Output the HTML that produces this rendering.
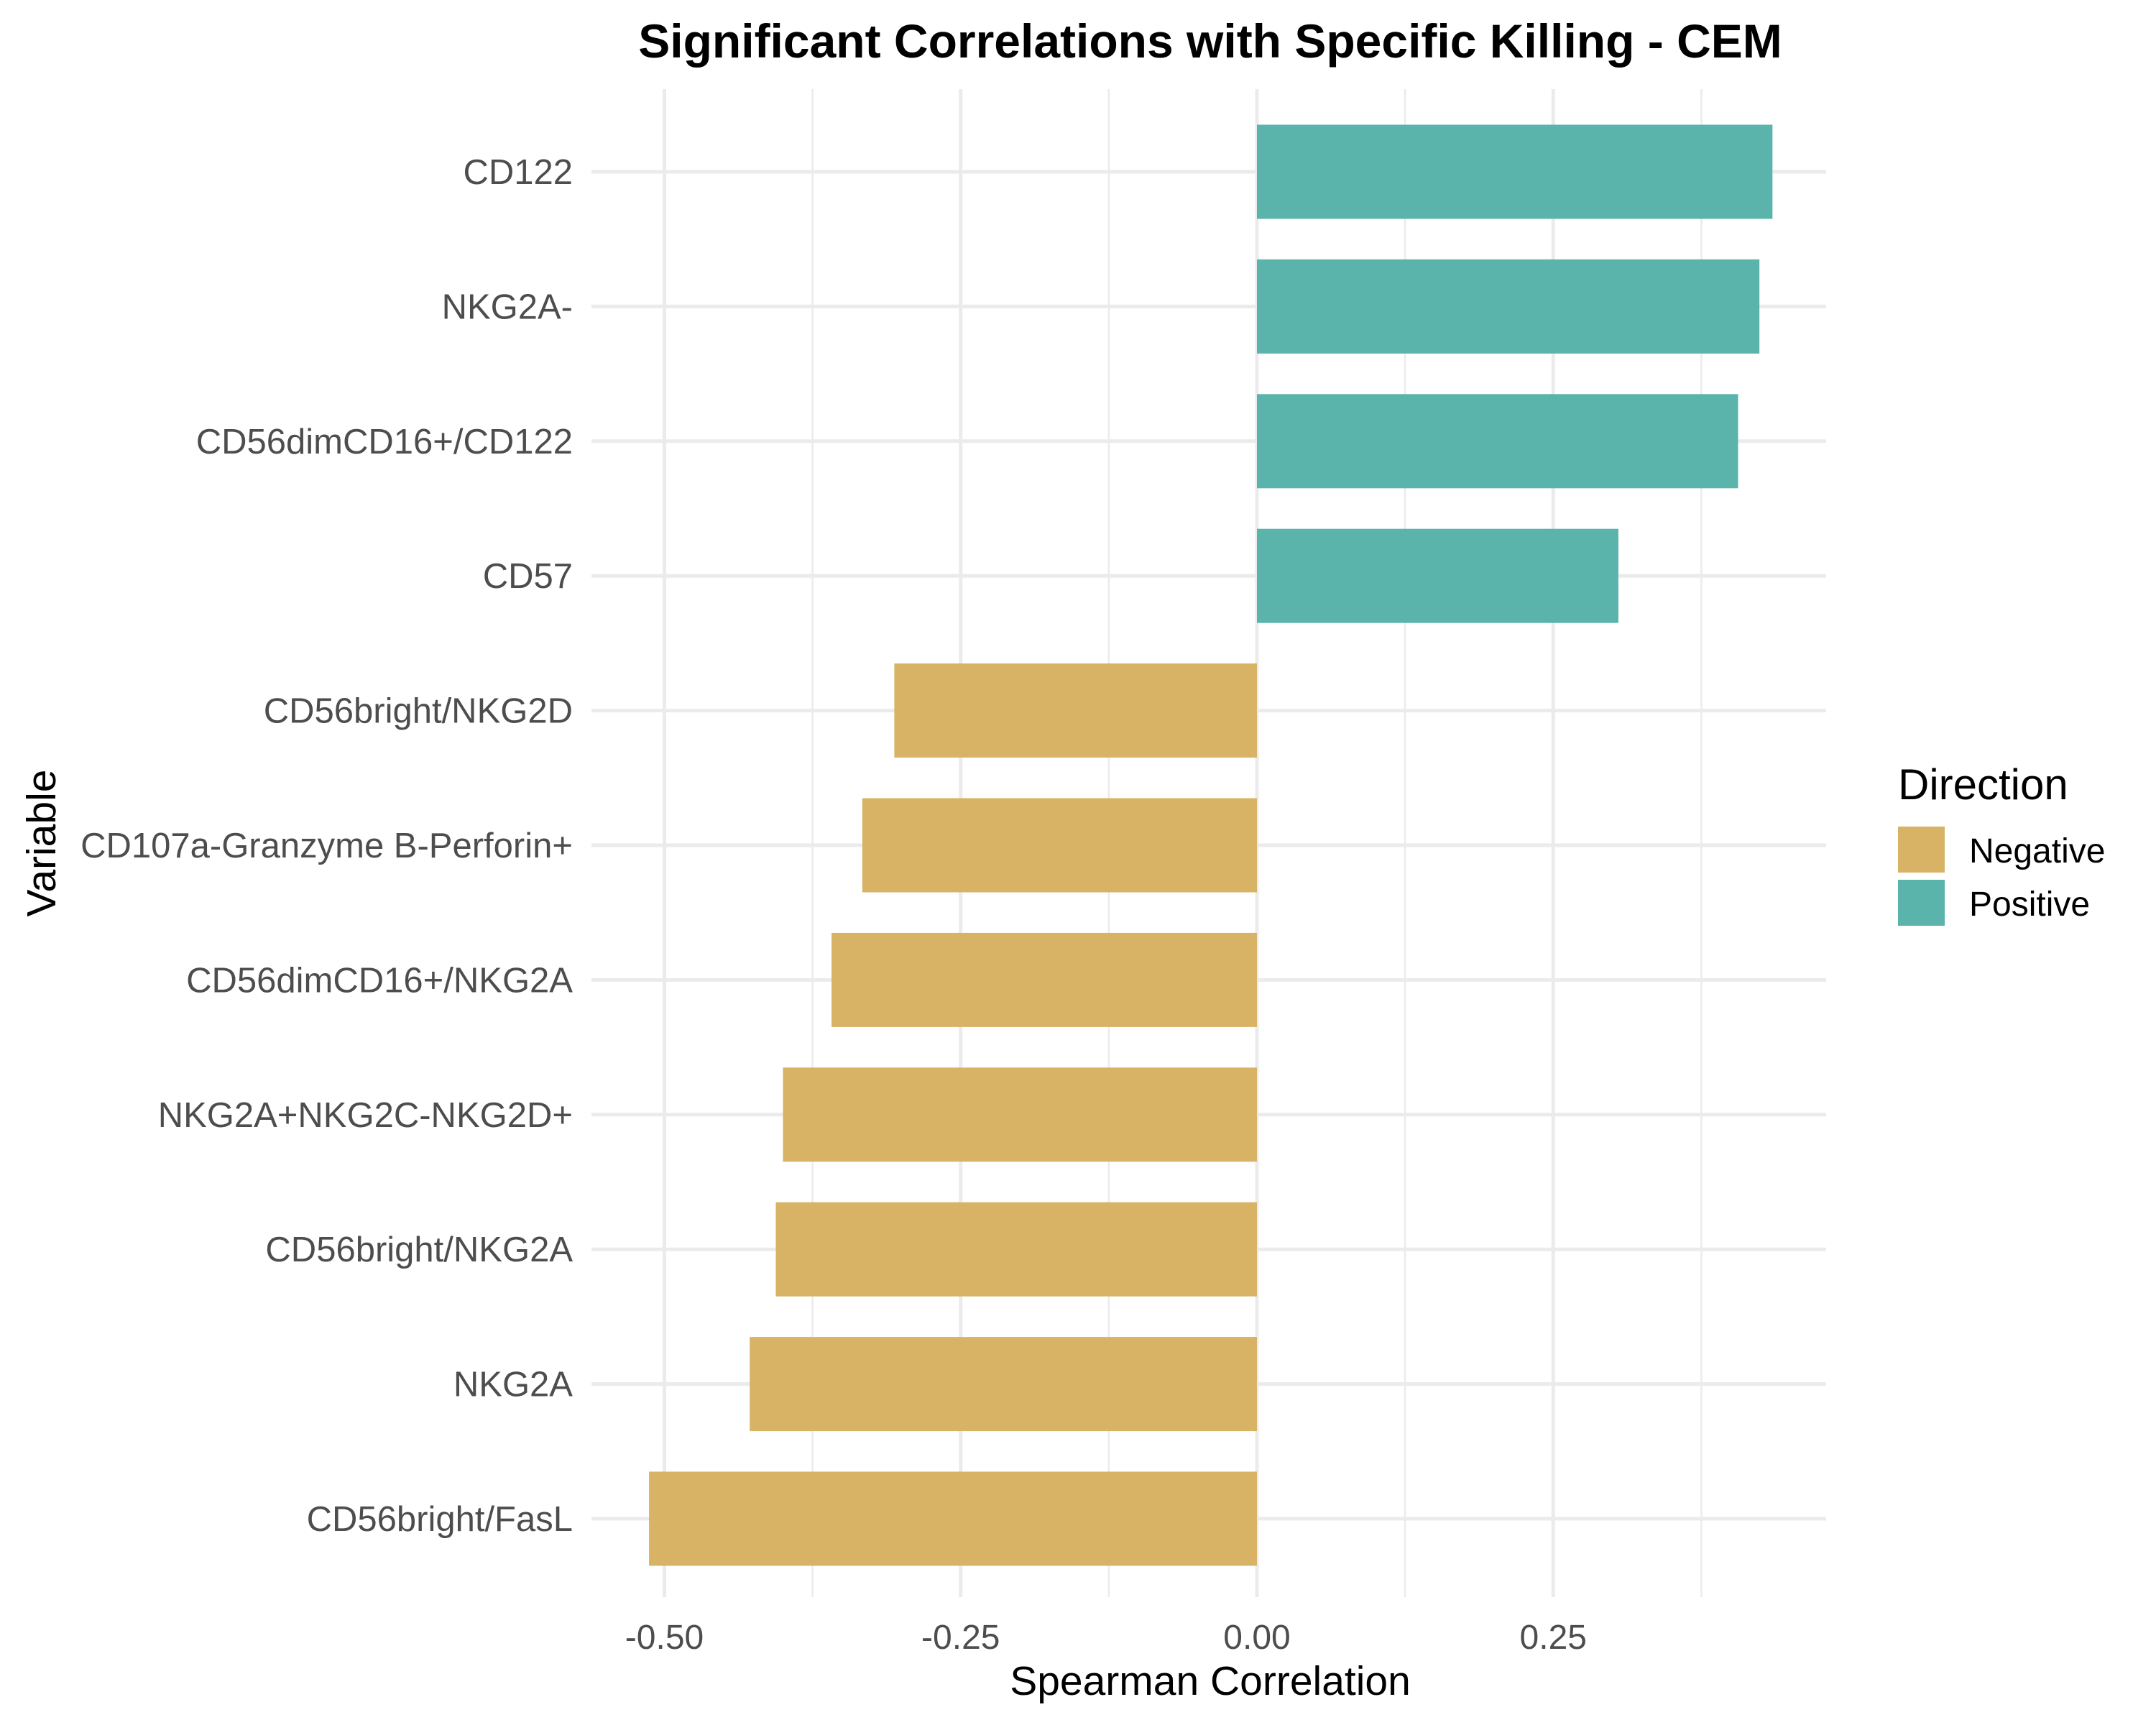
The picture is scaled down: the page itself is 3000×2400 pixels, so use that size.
<!DOCTYPE html>
<html><head><meta charset="utf-8"><style>
html,body{margin:0;padding:0;background:#fff;}
svg{display:block;font-family:"Liberation Sans",Arial,sans-serif;}
</style></head><body>
<svg id="chart" width="3000" height="2400" viewBox="0 0 3000 2400">
<rect width="3000" height="2400" fill="#fff"/>
<g id="grid"></g><g id="bars"></g><g id="ylabels"></g><g id="xlabels"></g>
<text x="1684" y="80" text-anchor="middle" font-size="66" font-weight="bold" fill="#000">Significant Correlations with Specific Killing - CEM</text>
<text x="1684" y="2358" text-anchor="middle" font-size="57" fill="#000">Spearman Correlation</text>
<text transform="translate(77,1173) rotate(-90)" text-anchor="middle" font-size="57" fill="#000">Variable</text>
<g>
<text x="2641" y="1112" font-size="60" fill="#000">Direction</text>
<rect x="2641" y="1150" width="65" height="64" fill="#D8B365"/>
<text x="2740" y="1200" font-size="48" fill="#000">Negative</text>
<rect x="2641" y="1224" width="65" height="64" fill="#5AB4AC"/>
<text x="2740" y="1274" font-size="48" fill="#000">Positive</text>
</g>
</svg>
<script>
const categories = ["CD122","NKG2A-","CD56dimCD16+/CD122","CD57","CD56bright/NKG2D","CD107a-Granzyme B-Perforin+","CD56dimCD16+/NKG2A","NKG2A+NKG2C-NKG2D+","CD56bright/NKG2A","NKG2A","CD56bright/FasL"];
const values = [0.435,0.424,0.406,0.305,-0.306,-0.333,-0.359,-0.400,-0.406,-0.428,-0.513];
const majorTicks = [-0.5,-0.25,0,0.25];
const tickLabels = ["-0.50","-0.25","0.00","0.25"];
const minorTicks = [-0.375,-0.125,0.125,0.375];
const NS="http://www.w3.org/2000/svg";
const panelL=823, panelR=2541, panelT=124, panelB=2222;
function xs(v){return 1749 + v*1649;}
function ys(i){return 239 + i*187.4;}
const bandH=131;
function mk(tag,attrs,parent){const e=document.createElementNS(NS,tag);for(const k in attrs)e.setAttribute(k,attrs[k]);parent.appendChild(e);return e;}
const grid=document.getElementById('grid');
minorTicks.forEach(v=>{
  const l=mk('line',{x1:xs(v),x2:xs(v),y1:panelT,y2:panelB,stroke:'#EBEBEB','stroke-width':2.5},grid);
  
  
});
majorTicks.forEach(v=>{
  const l=mk('line',{x1:xs(v),x2:xs(v),y1:panelT,y2:panelB,stroke:'#EBEBEB','stroke-width':5},grid);
  
  
});
categories.forEach((c,i)=>{
  const l=mk('line',{x1:panelL,x2:panelR,y1:ys(i),y2:ys(i),stroke:'#EBEBEB','stroke-width':5},grid);
  
  
});
const bars=document.getElementById('bars');
values.forEach((v,i)=>{
  const x0=Math.min(xs(0),xs(v)), w=Math.abs(xs(v)-xs(0));
  const r=mk('rect',{x:x0,y:ys(i)-bandH/2,width:w,height:bandH,fill:v>=0?'#5AB4AC':'#D8B365'},bars);
  
  
});
const yl=document.getElementById('ylabels');
categories.forEach((c,i)=>{
  const t=mk('text',{x:797,y:ys(i)+17,'text-anchor':'end','font-size':49,fill:'#4D4D4D'},yl);
  t.textContent=c;
  
  
});
const xl=document.getElementById('xlabels');
majorTicks.forEach((v,i)=>{
  const t=mk('text',{x:xs(v),y:2294,'text-anchor':'middle','font-size':48,fill:'#4D4D4D'},xl);
  t.textContent=tickLabels[i];
  
  
});
</script>
</body></html>
